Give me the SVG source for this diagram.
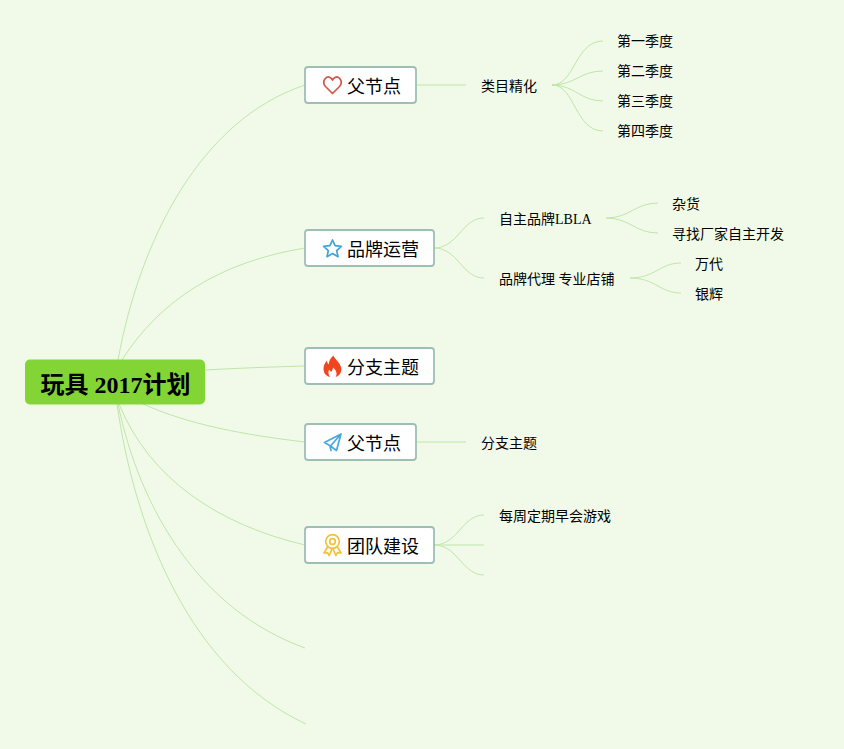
<svg xmlns="http://www.w3.org/2000/svg" width="844" height="749" viewBox="0 0 844 749">
<style>
text{font-family:"Liberation Serif","Noto Sans CJK SC",serif;fill:#000}
.c{fill:none;stroke:#bfe6aa;stroke-width:1}
.b{fill:#fff;stroke:#9dbfb6;stroke-width:1.8}
.t{font-size:18px}
.l{font-size:14px}
.i{fill:none;stroke-width:1.7;stroke-linejoin:round;stroke-linecap:round}
</style>
<rect width="844" height="749" fill="#f1fae8"/>
<g id="connectors">
<path class="c" d="M118 360C140 240 200 120 305 85"/>
<path class="c" d="M122 360C160 300 220 262 305 248"/>
<path class="c" d="M205 370C240 368 270 367 305 366"/>
<path class="c" d="M143 404C190 425 245 435 305 442"/>
<path class="c" d="M119 404C150 480 220 525 305 545"/>
<path class="c" d="M118 404C140 510 200 610 305 648"/>
<path class="c" d="M117 404C135 530 190 670 306 724"/>
<path class="c" d="M416 85H466"/>
<path class="c" d="M552 85C575 85 575 41 603 41"/>
<path class="c" d="M552 85C575 85 580 71 603 71"/>
<path class="c" d="M552 85C575 85 580 101 603 101"/>
<path class="c" d="M552 85C575 85 575 131 603 131"/>
<path class="c" d="M434 248C458 248 462 218 484 218"/>
<path class="c" d="M434 248C458 248 462 278 484 278"/>
<path class="c" d="M606 218C630 218 635 203 658 203"/>
<path class="c" d="M606 218C630 218 635 233 658 233"/>
<path class="c" d="M630 278C655 278 660 263 681 263"/>
<path class="c" d="M630 278C655 278 660 293 681 293"/>
<path class="c" d="M416 442H466"/>
<path class="c" d="M434 545C458 545 462 515 484 515"/>
<path class="c" d="M434 545H484"/>
<path class="c" d="M434 545C458 545 462 575 484 575"/>
</g>
<g id="root"><rect x="25" y="359.500" width="180" height="45" rx="5" fill="#82d535"/><text x="40.500" y="393" font-size="24" font-weight="bold">玩具 2017计划</text></g>
<g id="n1"><rect class="b" x="305" y="67" width="111" height="36" rx="3"/>
<path class="i" stroke="#d0574a" d="M332.500 93.500l-7-7c-4.500-5.500 1-11 4.500-9 1.200.7 2 1.500 2.500 2.500.5-1 1.300-1.800 2.500-2.500 3.500-2 9 3.500 4.500 9z"/>
<text class="t" x="347" y="93">父节点</text></g>
<g id="n2"><rect class="b" x="305" y="230" width="129" height="36" rx="3"/>
<path class="i" stroke="#3fa3dc" d="M332.500 240l2.600 5.600 6.200.8-4.600 4.200 1.300 6.100-5.500-3.100-5.500 3.100 1.300-6.100-4.600-4.200 6.200-.8z"/>
<text class="t" x="347" y="256">品牌运营</text></g>
<g id="n3"><rect class="b" x="305" y="348" width="129" height="36" rx="3"/>
<path fill="#f0461e" d="M333.500 355.500c1 3.500 6 6.500 7.500 11.500 1.400 5-1.500 9-5.500 10 1.800-2.500 1.500-6-2.500-9.500-.2 2-1 3.500-2 4.500-.8-1.200-1.500-2-2-2.500-1 2.500-.6 5.500 1 7.500-4.500-.8-7-5-6.400-9.500.4-3 2-5.500 3.400-7 .1 1.800.6 3 1.700 4 .2-4 2.800-7.500 4.800-9z"/>
<text class="t" x="347" y="374">分支主题</text></g>
<g id="n4"><rect class="b" x="305" y="424" width="111" height="36" rx="3"/>
<path class="i" stroke="#4aa8dc" d="M341 434l-16.500 8.500 6 3.500 10.500-12-4.500 16.500-6-4.500zM330 446l1 4.500"/>
<text class="t" x="347" y="450">父节点</text></g>
<g id="n5"><rect class="b" x="305" y="527" width="129" height="36" rx="3"/>
<circle class="i" stroke="#f3c13a" cx="332.500" cy="541.500" r="6.800"/><circle class="i" stroke="#f3c13a" cx="332.500" cy="541.500" r="2.800"/>
<path class="i" stroke="#f3c13a" d="M327.500 547l-3.500 6 3.500-.4 1.700 2.900 2.500-6M337.500 547l3.500 6-3.500-.4-1.700 2.900-2.500-6"/>
<text class="t" x="347" y="553">团队建设</text></g>
<g id="a1"><text class="l" x="481" y="91">类目精化</text></g>
<g id="a2"><text class="l" x="617" y="46">第一季度</text></g>
<g id="a3"><text class="l" x="617" y="76">第二季度</text></g>
<g id="a4"><text class="l" x="617" y="106">第三季度</text></g>
<g id="a5"><text class="l" x="617" y="136">第四季度</text></g>
<g id="b1"><text class="l" x="499" y="224">自主品牌LBLA</text></g>
<g id="b2"><text class="l" x="499" y="284">品牌代理 专业店铺</text></g>
<g id="b3"><text class="l" x="672" y="209">杂货</text></g>
<g id="b4"><text class="l" x="672" y="239">寻找厂家自主开发</text></g>
<g id="b5"><text class="l" x="695" y="269">万代</text></g>
<g id="b6"><text class="l" x="695" y="299">银辉</text></g>
<g id="d1"><text class="l" x="481" y="448">分支主题</text></g>
<g id="e1"><text class="l" x="499" y="521">每周定期早会游戏</text></g>
</svg>
